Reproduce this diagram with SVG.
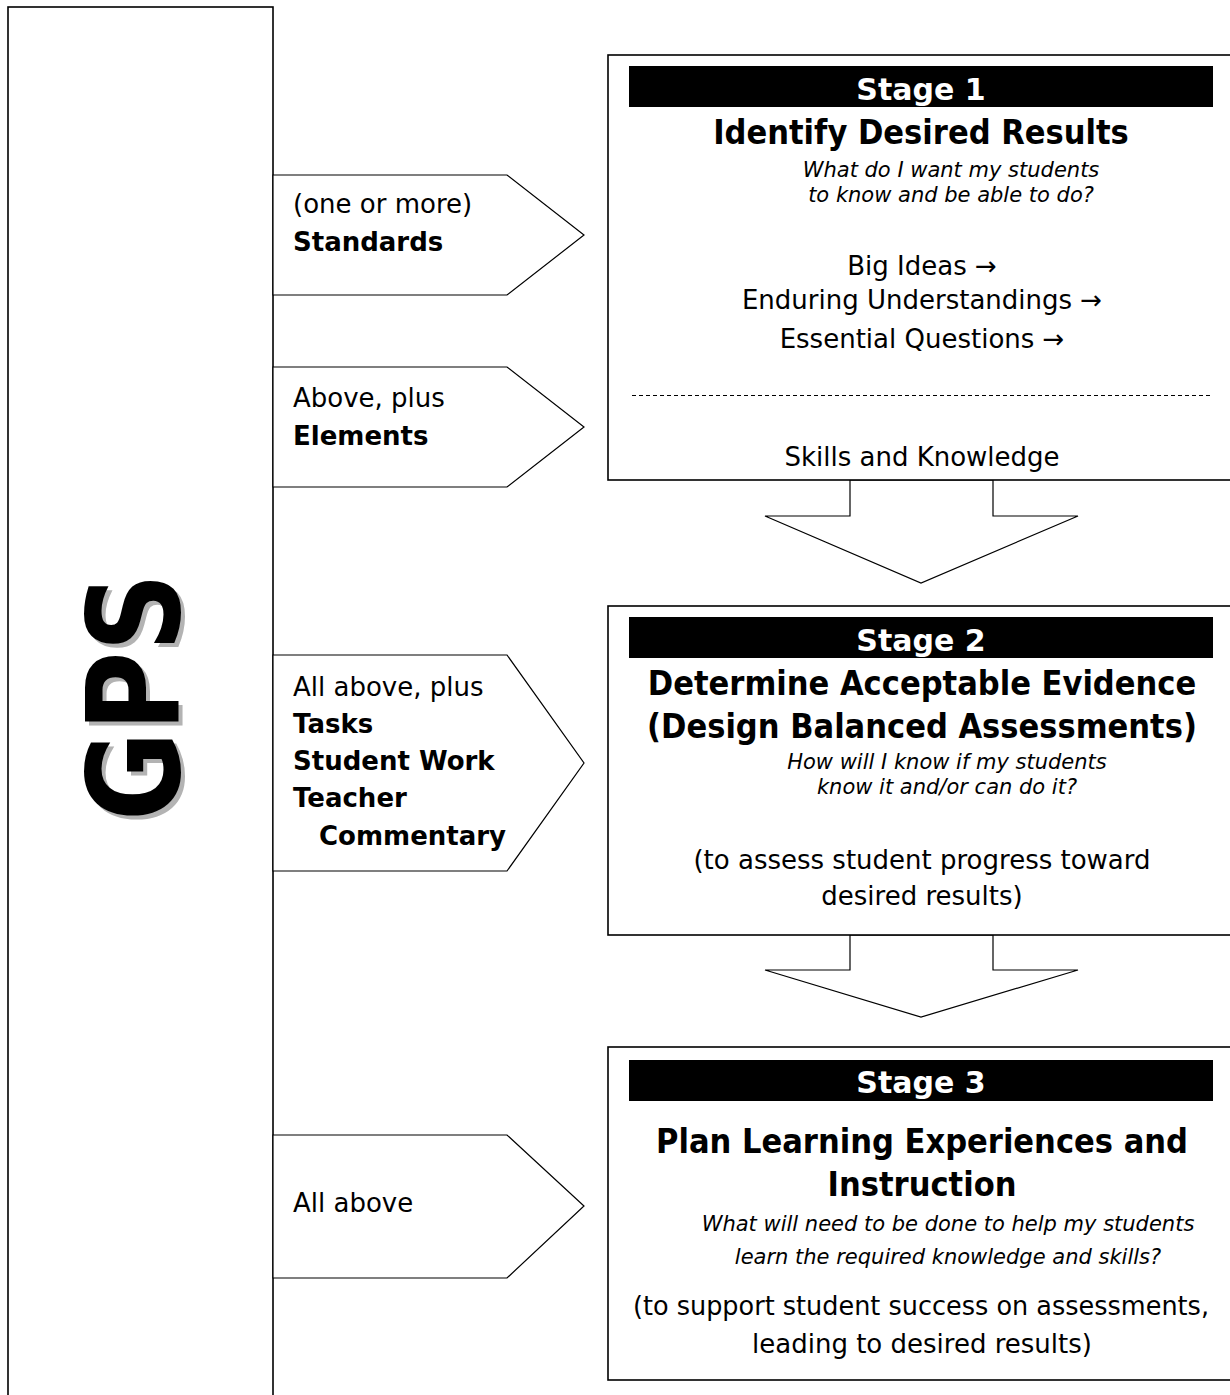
<svg xmlns="http://www.w3.org/2000/svg" width="1230" height="1395" viewBox="0 0 1230 1395">
<style>
text{font-family:"DejaVu Sans",sans-serif;fill:#000}
.box{fill:#fff;stroke:#000;stroke-width:1.6}
.arr{fill:#fff;stroke:#000;stroke-width:1.2}
.bar{fill:#000}
.lbl{font-size:26px}
.b{font-weight:bold}
.st{font-size:30px;font-weight:bold;fill:#fff;text-anchor:middle}
.ttl{font-family:"DejaVu Sans Condensed","DejaVu Sans",sans-serif;font-stretch:condensed;font-size:34px;font-weight:bold;text-anchor:middle}
.it{font-size:21px;font-style:italic;text-anchor:middle}
.c{font-size:26px;text-anchor:middle}
.gps{font-family:"DejaVu Sans Condensed","DejaVu Sans",sans-serif;font-stretch:condensed;font-size:128px;font-weight:bold;text-anchor:middle}
</style>
<g id="gps">
<rect class="box" x="8" y="7" width="265" height="1400"/>
<text class="gps" style="fill:#b3b3b3" transform="translate(183,701) rotate(-90)" textLength="248" lengthAdjust="spacingAndGlyphs">GPS</text>
<text class="gps" transform="translate(179,697) rotate(-90)" textLength="248" lengthAdjust="spacingAndGlyphs">GPS</text>
</g>
<g id="connectors">
<polygon class="arr" points="273,175 507,175 584,235 507,295 273,295"/>
<polygon class="arr" points="273,367 507,367 584,427 507,487 273,487"/>
<polygon class="arr" points="273,655 507,655 584,763 507,871 273,871"/>
<polygon class="arr" points="273,1135 507,1135 584,1206 507,1278 273,1278"/>
<polygon class="arr" points="850,480 850,516 765,516 921,583 1078,516 993,516 993,480"/>
<polygon class="arr" points="850,935 850,970 765,970 921,1017 1078,970 993,970 993,935"/>
</g>
<g id="label1">
<text class="lbl" x="293" y="213">(one or more)</text>
<text class="lbl b" x="293" y="251">Standards</text>
</g>
<g id="label2">
<text class="lbl" x="293" y="407">Above, plus</text>
<text class="lbl b" x="293" y="445">Elements</text>
</g>
<g id="label3">
<text class="lbl" x="293" y="696">All above, plus</text>
<text class="lbl b" x="293" y="733">Tasks</text>
<text class="lbl b" x="293" y="770">Student Work</text>
<text class="lbl b" x="293" y="807">Teacher</text>
<text class="lbl b" x="319" y="845">Commentary</text>
</g>
<g id="label4">
<text class="lbl" x="293" y="1212">All above</text>
</g>
<g id="stage1">
<rect class="box" x="608" y="55" width="630" height="425"/>
<rect class="bar" x="629" y="66" width="584" height="41"/>
<text class="st" x="921" y="100">Stage 1</text>
<text class="ttl" x="921" y="144">Identify Desired Results</text>
<text class="it" x="951" y="177">What do I want my students</text>
<text class="it" x="951" y="202">to know and be able to do?</text>
<text class="c" x="922" y="275">Big Ideas →</text>
<text class="c" x="922" y="309">Enduring Understandings →</text>
<text class="c" x="922" y="348">Essential Questions →</text>
<line x1="632" y1="395.5" x2="1210" y2="395.5" stroke="#000" stroke-width="1" stroke-dasharray="4,3"/>
<text class="c" x="922" y="466">Skills and Knowledge</text>
</g>
<g id="stage2">
<rect class="box" x="608" y="606" width="630" height="329"/>
<rect class="bar" x="629" y="617" width="584" height="41"/>
<text class="st" x="921" y="651">Stage 2</text>
<text class="ttl" x="922" y="695">Determine Acceptable Evidence</text>
<text class="ttl" x="922" y="738">(Design Balanced Assessments)</text>
<text class="it" x="947" y="769">How will I know if my students</text>
<text class="it" x="947" y="794">know it and/or can do it?</text>
<text class="c" x="922" y="869">(to assess student progress toward</text>
<text class="c" x="922" y="905">desired results)</text>
</g>
<g id="stage3">
<rect class="box" x="608" y="1047" width="630" height="333"/>
<rect class="bar" x="629" y="1060" width="584" height="41"/>
<text class="st" x="921" y="1093">Stage 3</text>
<text class="ttl" x="922" y="1153">Plan Learning Experiences and</text>
<text class="ttl" x="922" y="1196">Instruction</text>
<text class="it" x="948" y="1231">What will need to be done to help my students</text>
<text class="it" x="948" y="1264">learn the required knowledge and skills?</text>
<text class="c" x="921" y="1315" textLength="576" lengthAdjust="spacingAndGlyphs">(to support student success on assessments,</text>
<text class="c" x="922" y="1353">leading to desired results)</text>
</g>
</svg>
